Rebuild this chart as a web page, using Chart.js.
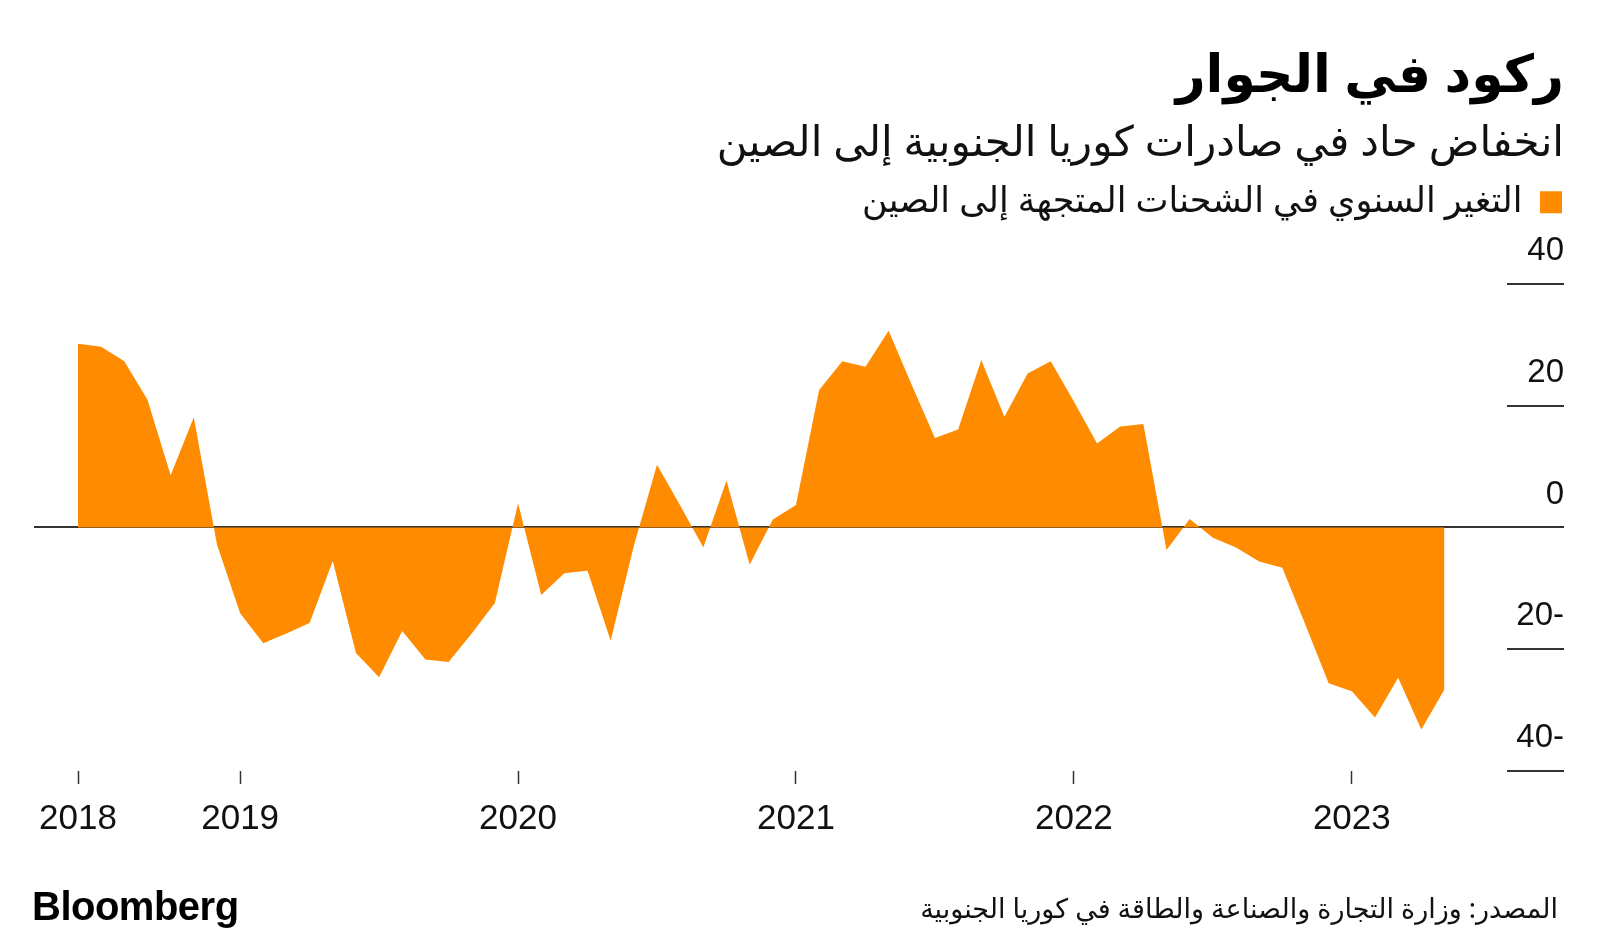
<!DOCTYPE html>
<html lang="ar">
<head>
<meta charset="utf-8">
<title>ركود في الجوار</title>
<script src="https://cdn.jsdelivr.net/npm/chart.js@4.4.0/dist/chart.umd.min.js"></script>
<style>
  html, body { margin: 0; padding: 0; background: #fff; }
  #wrap { position: relative; width: 1600px; height: 944px; overflow: hidden; }
  #chart { position: absolute; left: 0; top: 0; direction: ltr; }
  .brand {
    position: absolute; left: 32px; top: 884px;
    font: bold 40px 'Liberation Sans', Arial, sans-serif; letter-spacing: -0.5px; color: #000;
  }
  .source {
    position: absolute; right: 42px; top: 889px; direction: rtl;
    font: 27px 'Noto Sans', 'DejaVu Sans', sans-serif; color: #111;
  }
</style>
</head>
<body>
<div id="wrap">
  <canvas id="chart" width="1600" height="944"></canvas>
  <div class="brand">Bloomberg</div>
  <div class="source">المصدر: وزارة التجارة والصناعة والطاقة في كوريا الجنوبية</div>
</div>
<script>
// monthly points, plotted at month end
const months = [
    '2018-05', '2018-06', '2018-07', '2018-08', '2018-09', '2018-10', '2018-11', '2018-12',
    '2019-01', '2019-02', '2019-03', '2019-04', '2019-05', '2019-06', '2019-07', '2019-08', '2019-09', '2019-10', '2019-11', '2019-12',
    '2020-01', '2020-02', '2020-03', '2020-04', '2020-05', '2020-06', '2020-07', '2020-08', '2020-09', '2020-10', '2020-11', '2020-12',
    '2021-01', '2021-02', '2021-03', '2021-04', '2021-05', '2021-06', '2021-07', '2021-08', '2021-09', '2021-10', '2021-11', '2021-12',
    '2022-01', '2022-02', '2022-03', '2022-04', '2022-05', '2022-06', '2022-07', '2022-08', '2022-09', '2022-10', '2022-11', '2022-12',
    '2023-01', '2023-02', '2023-03', '2023-04'
];

// year-on-year change in shipments to China, %
const exportsToChina = [
    30.2, 29.7, 27.3, 21.0, 8.6, 18.1, -2.8, -14.1,
    -19.0, -17.4, -15.7, -5.5, -20.6, -24.6, -17.0, -21.7, -22.1, -17.4, -12.4, 4.0,
    -11.1, -7.5, -7.1, -18.6, -3.0, 10.3, 3.6, -3.3, 7.7, -6.1, 1.3, 3.7,
    22.6, 27.3, 26.4, 32.3, 23.4, 14.7, 16.1, 27.5, 18.2, 25.3, 27.3, 20.7,
    13.8, 16.6, 17.0, -3.7, 1.4, -1.7, -3.3, -5.6, -6.6, -16.0, -25.6, -26.9,
    -31.2, -24.7, -33.2, -26.6
];

const yearLabels = ['2018', '2019', '2020', '2021', '2022', '2023'];
const yearTickMonths = ['2018-05', '2018-12', '2019-12', '2020-12', '2021-12', '2022-12'];
const yTicks = [40, 20, 0, -20, -40];

const arabicFont = "'Noto Sans', 'DejaVu Sans', sans-serif";
const numFont = "'Liberation Sans', Arial, sans-serif";
const orange = '#ff8c00';

const points = months.map((m, i) => ({ x: i, y: exportsToChina[i] }));
const yearTickIdx = yearTickMonths.map(m => months.indexOf(m));

new Chart(document.getElementById('chart'), {
    type: 'line',
    data: {
        datasets: [{
            label: 'التغير السنوي في الشحنات المتجهة إلى الصين',
            data: points,
            backgroundColor: orange,
            borderColor: orange,
            borderWidth: 0,
            pointRadius: 0,
            tension: 0,
            fill: 'origin'
        }]
    },
    options: {
        responsive: false,
        animation: false,
        layout: {
            padding: { top: 46, left: 34, right: 36, bottom: 93 }
        },
        plugins: {
            title: {
                display: true,
                text: 'ركود في الجوار',
                align: 'end',
                color: '#000',
                font: { family: arabicFont, size: 52, weight: 'bold' },
                padding: { top: 0, bottom: 0 }
            },
            subtitle: {
                display: true,
                text: 'انخفاض حاد في صادرات كوريا الجنوبية إلى الصين',
                align: 'end',
                color: '#111',
                font: { family: arabicFont, size: 42 },
                padding: { top: 10, bottom: 14 }
            },
            legend: {
                display: true,
                position: 'top',
                align: 'start',
                rtl: true,
                labels: {
                    boxWidth: 22,
                    boxHeight: 22,
                    padding: 2,
                    color: '#111',
                    font: { family: arabicFont, size: 35 }
                }
            },
            tooltip: { enabled: false }
        },
        scales: {
            x: {
                type: 'linear',
                position: 'bottom',
                min: -1.9,
                max: 61.7,
                afterBuildTicks: axis => {
                    axis.ticks = yearTickIdx.map(v => ({ value: v }));
                },
                afterFit: axis => { axis.height = 80; },
                grid: {
                    drawOnChartArea: false,
                    drawTicks: true,
                    tickLength: 13,
                    tickColor: '#333',
                    tickWidth: 1.5
                },
                border: { display: false },
                ticks: {
                    autoSkip: false,
                    maxRotation: 0,
                    padding: 14,
                    color: '#111',
                    font: { family: numFont, size: 35 },
                    callback: v => yearLabels[yearTickIdx.indexOf(v)]
                }
            },
            y: {
                position: 'right',
                min: -40,
                max: 48.9,
                afterBuildTicks: axis => {
                    axis.ticks = yTicks.map(v => ({ value: v }));
                },
                afterFit: axis => { axis.width = 57; },
                grid: {
                    drawOnChartArea: true,
                    drawTicks: true,
                    tickLength: 57,
                    lineWidth: 2,
                    color: ctx => (ctx.tick && ctx.tick.value === 0) ? '#333' : 'rgba(0,0,0,0)',
                    tickColor: '#333',
                    tickWidth: 2
                },
                border: { display: false },
                ticks: {
                    mirror: true,
                    padding: 57,
                    labelOffset: -33,
                    color: '#111',
                    font: { family: numFont, size: 33 },
                    callback: v => v < 0 ? Math.abs(v) + '-' : String(v)
                }
            }
        }
    }
});
</script>
</body>
</html>
